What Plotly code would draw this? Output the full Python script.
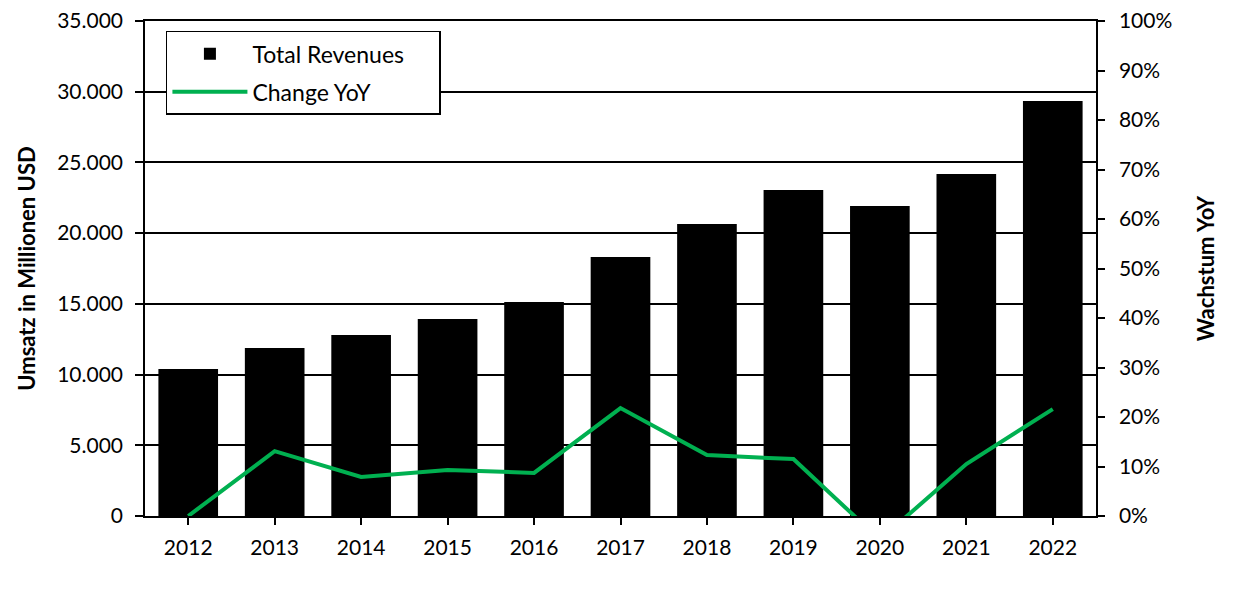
import plotly.graph_objects as go

years = ["2012", "2013", "2014", "2015", "2016", "2017", "2018", "2019", "2020", "2021", "2022"]
revenues = [10400, 11880, 12800, 13930, 15130, 18320, 20650, 23050, 21920, 24190, 29350]
change_yoy = [0.0, 0.131, 0.079, 0.093, 0.087, 0.218, 0.123, 0.115, -0.048, 0.105, 0.216]

green = "#00B050"
font = "Lato, 'Open Sans', sans-serif"
pad = "\u00a0" * 5

fig = go.Figure()
fig.add_trace(go.Bar(
    x=years, y=revenues, name="Total Revenues" + pad,
    marker=dict(color="black", line=dict(width=0)),
    legendgroup="a",
))
fig.add_trace(go.Scatter(
    x=years, y=change_yoy, name="Change YoY", yaxis="y2",
    mode="lines", line=dict(color=green, width=4),
    legendgroup="b",
))

# page body has an 8px margin, so the margins are shifted to compensate
fig.update_layout(
    width=1236, height=591,
    margin=dict(l=137, r=148, t=13, b=83, autoexpand=False),
    paper_bgcolor="white", plot_bgcolor="white",
    font=dict(family=font, size=21, color="black"),
    separators=",.",
    bargap=0.31,
    showlegend=True,
    legend=dict(
        x=0.022, y=0.98, xanchor="left", yanchor="top",
        bgcolor="white", bordercolor="black", borderwidth=1.5,
        tracegroupgap=5, itemwidth=75,
        font=dict(size=23),
    ),
    xaxis=dict(
        type="category", showline=True, mirror=True, linecolor="black", linewidth=1.5,
        ticks="outside", ticklen=7, tickcolor="black", tickwidth=1.5,
        ticklabelstandoff=5, ticklabeloverflow="allow",
        showgrid=False, automargin=False,
    ),
    yaxis=dict(
        range=[0, 35000], dtick=5000, tickformat=",d",
        showline=True, linecolor="black", linewidth=1.5,
        ticks="outside", ticklen=8, tickcolor="black", tickwidth=1.5,
        ticklabelstandoff=8, ticklabeloverflow="allow",
        showgrid=True, gridcolor="black", gridwidth=1.5,
        zeroline=False, automargin=False,
        title=dict(text="<b>Umsatz in Millionen USD</b>", font=dict(size=22), standoff=15),
    ),
    yaxis2=dict(
        overlaying="y", side="right", range=[0, 1], dtick=0.1, tickformat=".0%",
        showline=True, linecolor="black", linewidth=1.5,
        ticks="outside", ticklen=7, tickcolor="black", tickwidth=1.5,
        ticklabelstandoff=10, ticklabeloverflow="allow",
        showgrid=False, zeroline=False, automargin=False,
        title=dict(text="<b>Wachstum YoY</b>", font=dict(size=22), standoff=27),
    ),
)

fig.write_html("out.html")
